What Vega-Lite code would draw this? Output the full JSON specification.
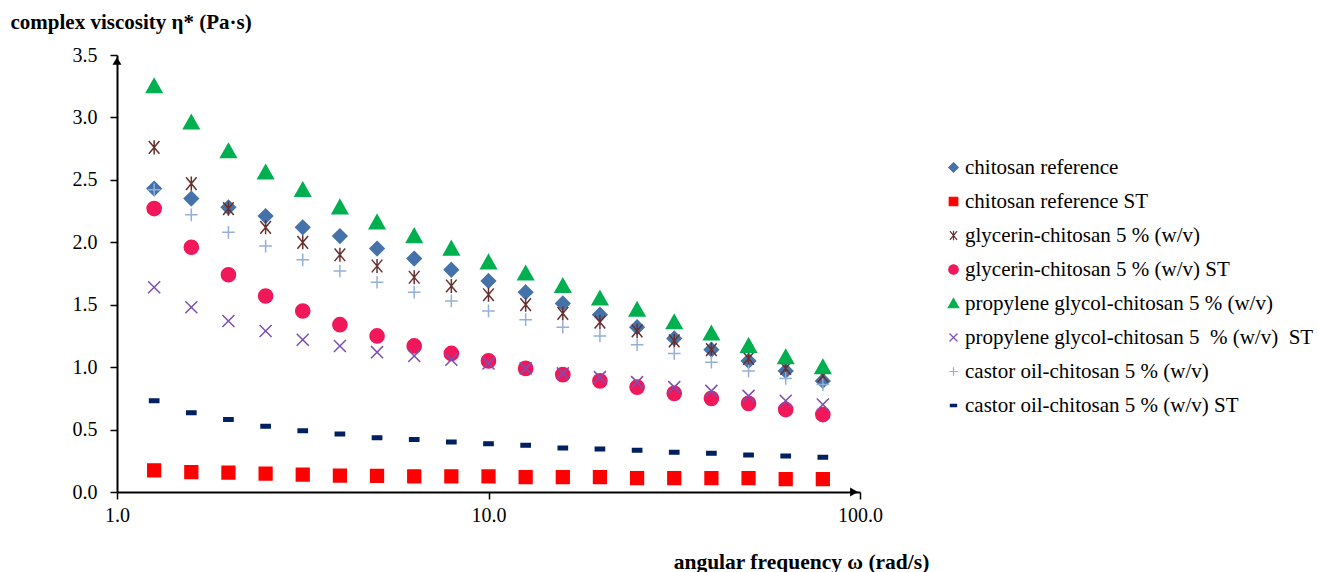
{
  "$schema": "https://vega.github.io/schema/vega-lite/v6.json",
  "autosize": {"type": "none"},
  "padding": {"left": 117, "top": 55, "right": 458, "bottom": 80},
  "width": 743,
  "height": 437,
  "background": "white",
  "config": {
    "view": {"stroke": null},
    "font": "Liberation Serif",
    "axis": {"labelFont": "Liberation Serif", "titleFont": "Liberation Serif", "labelColor": "black", "titleColor": "black", "domainColor": "black", "tickColor": "black", "grid": false, "labelFlush": false, "labelOverlap": false},
    "legend": {"labelFont": "Liberation Serif", "labelColor": "black"}
  },
  "datasets": {
    "arrows": [{"w": 1, "v": 3.5, "k": "y"}],
    "arrowsx": [{"w": 100, "v": 0, "k": "x"}],
    "main": [
      {"s":"chitosan reference","w":1.259,"v":2.43},{"s":"chitosan reference","w":1.585,"v":2.35},{"s":"chitosan reference","w":1.995,"v":2.28},{"s":"chitosan reference","w":2.512,"v":2.21},{"s":"chitosan reference","w":3.162,"v":2.12},{"s":"chitosan reference","w":3.981,"v":2.05},{"s":"chitosan reference","w":5.012,"v":1.95},{"s":"chitosan reference","w":6.31,"v":1.87},{"s":"chitosan reference","w":7.943,"v":1.78},{"s":"chitosan reference","w":10,"v":1.69},{"s":"chitosan reference","w":12.59,"v":1.6},{"s":"chitosan reference","w":15.85,"v":1.51},{"s":"chitosan reference","w":19.95,"v":1.42},{"s":"chitosan reference","w":25.12,"v":1.32},{"s":"chitosan reference","w":31.62,"v":1.23},{"s":"chitosan reference","w":39.81,"v":1.14},{"s":"chitosan reference","w":50.12,"v":1.05},{"s":"chitosan reference","w":63.1,"v":0.97},{"s":"chitosan reference","w":79.43,"v":0.89},
      {"s":"chitosan reference ST","w":1.259,"v":0.174},{"s":"chitosan reference ST","w":1.585,"v":0.16},{"s":"chitosan reference ST","w":1.995,"v":0.155},{"s":"chitosan reference ST","w":2.512,"v":0.147},{"s":"chitosan reference ST","w":3.162,"v":0.139},{"s":"chitosan reference ST","w":3.981,"v":0.131},{"s":"chitosan reference ST","w":5.012,"v":0.13},{"s":"chitosan reference ST","w":6.31,"v":0.126},{"s":"chitosan reference ST","w":7.943,"v":0.126},{"s":"chitosan reference ST","w":10,"v":0.125},{"s":"chitosan reference ST","w":12.59,"v":0.12},{"s":"chitosan reference ST","w":15.85,"v":0.12},{"s":"chitosan reference ST","w":19.95,"v":0.12},{"s":"chitosan reference ST","w":25.12,"v":0.112},{"s":"chitosan reference ST","w":31.62,"v":0.112},{"s":"chitosan reference ST","w":39.81,"v":0.112},{"s":"chitosan reference ST","w":50.12,"v":0.112},{"s":"chitosan reference ST","w":63.1,"v":0.104},{"s":"chitosan reference ST","w":79.43,"v":0.104},
      {"s":"glycerin-chitosan 5 % (w/v)","w":1.259,"v":2.76},{"s":"glycerin-chitosan 5 % (w/v)","w":1.585,"v":2.47},{"s":"glycerin-chitosan 5 % (w/v)","w":1.995,"v":2.27},{"s":"glycerin-chitosan 5 % (w/v)","w":2.512,"v":2.12},{"s":"glycerin-chitosan 5 % (w/v)","w":3.162,"v":2.0},{"s":"glycerin-chitosan 5 % (w/v)","w":3.981,"v":1.9},{"s":"glycerin-chitosan 5 % (w/v)","w":5.012,"v":1.81},{"s":"glycerin-chitosan 5 % (w/v)","w":6.31,"v":1.72},{"s":"glycerin-chitosan 5 % (w/v)","w":7.943,"v":1.65},{"s":"glycerin-chitosan 5 % (w/v)","w":10,"v":1.58},{"s":"glycerin-chitosan 5 % (w/v)","w":12.59,"v":1.5},{"s":"glycerin-chitosan 5 % (w/v)","w":15.85,"v":1.43},{"s":"glycerin-chitosan 5 % (w/v)","w":19.95,"v":1.36},{"s":"glycerin-chitosan 5 % (w/v)","w":25.12,"v":1.29},{"s":"glycerin-chitosan 5 % (w/v)","w":31.62,"v":1.21},{"s":"glycerin-chitosan 5 % (w/v)","w":39.81,"v":1.14},{"s":"glycerin-chitosan 5 % (w/v)","w":50.12,"v":1.07},{"s":"glycerin-chitosan 5 % (w/v)","w":63.1,"v":0.99},{"s":"glycerin-chitosan 5 % (w/v)","w":79.43,"v":0.93},
      {"s":"glycerin-chitosan 5 % (w/v) ST","w":1.259,"v":2.27},{"s":"glycerin-chitosan 5 % (w/v) ST","w":1.585,"v":1.96},{"s":"glycerin-chitosan 5 % (w/v) ST","w":1.995,"v":1.74},{"s":"glycerin-chitosan 5 % (w/v) ST","w":2.512,"v":1.57},{"s":"glycerin-chitosan 5 % (w/v) ST","w":3.162,"v":1.45},{"s":"glycerin-chitosan 5 % (w/v) ST","w":3.981,"v":1.34},{"s":"glycerin-chitosan 5 % (w/v) ST","w":5.012,"v":1.25},{"s":"glycerin-chitosan 5 % (w/v) ST","w":6.31,"v":1.17},{"s":"glycerin-chitosan 5 % (w/v) ST","w":7.943,"v":1.11},{"s":"glycerin-chitosan 5 % (w/v) ST","w":10,"v":1.05},{"s":"glycerin-chitosan 5 % (w/v) ST","w":12.59,"v":0.99},{"s":"glycerin-chitosan 5 % (w/v) ST","w":15.85,"v":0.94},{"s":"glycerin-chitosan 5 % (w/v) ST","w":19.95,"v":0.89},{"s":"glycerin-chitosan 5 % (w/v) ST","w":25.12,"v":0.84},{"s":"glycerin-chitosan 5 % (w/v) ST","w":31.62,"v":0.79},{"s":"glycerin-chitosan 5 % (w/v) ST","w":39.81,"v":0.75},{"s":"glycerin-chitosan 5 % (w/v) ST","w":50.12,"v":0.71},{"s":"glycerin-chitosan 5 % (w/v) ST","w":63.1,"v":0.66},{"s":"glycerin-chitosan 5 % (w/v) ST","w":79.43,"v":0.62},
      {"s":"propylene glycol-chitosan 5 % (w/v)","w":1.259,"v":3.25},{"s":"propylene glycol-chitosan 5 % (w/v)","w":1.585,"v":2.96},{"s":"propylene glycol-chitosan 5 % (w/v)","w":1.995,"v":2.73},{"s":"propylene glycol-chitosan 5 % (w/v)","w":2.512,"v":2.56},{"s":"propylene glycol-chitosan 5 % (w/v)","w":3.162,"v":2.42},{"s":"propylene glycol-chitosan 5 % (w/v)","w":3.981,"v":2.28},{"s":"propylene glycol-chitosan 5 % (w/v)","w":5.012,"v":2.16},{"s":"propylene glycol-chitosan 5 % (w/v)","w":6.31,"v":2.05},{"s":"propylene glycol-chitosan 5 % (w/v)","w":7.943,"v":1.95},{"s":"propylene glycol-chitosan 5 % (w/v)","w":10,"v":1.84},{"s":"propylene glycol-chitosan 5 % (w/v)","w":12.59,"v":1.75},{"s":"propylene glycol-chitosan 5 % (w/v)","w":15.85,"v":1.65},{"s":"propylene glycol-chitosan 5 % (w/v)","w":19.95,"v":1.55},{"s":"propylene glycol-chitosan 5 % (w/v)","w":25.12,"v":1.46},{"s":"propylene glycol-chitosan 5 % (w/v)","w":31.62,"v":1.36},{"s":"propylene glycol-chitosan 5 % (w/v)","w":39.81,"v":1.27},{"s":"propylene glycol-chitosan 5 % (w/v)","w":50.12,"v":1.17},{"s":"propylene glycol-chitosan 5 % (w/v)","w":63.1,"v":1.08},{"s":"propylene glycol-chitosan 5 % (w/v)","w":79.43,"v":1.0},
      {"s":"propylene glycol-chitosan 5\u00a0 % (w/v)\u00a0 ST","w":1.259,"v":1.64},{"s":"propylene glycol-chitosan 5\u00a0 % (w/v)\u00a0 ST","w":1.585,"v":1.48},{"s":"propylene glycol-chitosan 5\u00a0 % (w/v)\u00a0 ST","w":1.995,"v":1.37},{"s":"propylene glycol-chitosan 5\u00a0 % (w/v)\u00a0 ST","w":2.512,"v":1.29},{"s":"propylene glycol-chitosan 5\u00a0 % (w/v)\u00a0 ST","w":3.162,"v":1.22},{"s":"propylene glycol-chitosan 5\u00a0 % (w/v)\u00a0 ST","w":3.981,"v":1.17},{"s":"propylene glycol-chitosan 5\u00a0 % (w/v)\u00a0 ST","w":5.012,"v":1.12},{"s":"propylene glycol-chitosan 5\u00a0 % (w/v)\u00a0 ST","w":6.31,"v":1.09},{"s":"propylene glycol-chitosan 5\u00a0 % (w/v)\u00a0 ST","w":7.943,"v":1.06},{"s":"propylene glycol-chitosan 5\u00a0 % (w/v)\u00a0 ST","w":10,"v":1.03},{"s":"propylene glycol-chitosan 5\u00a0 % (w/v)\u00a0 ST","w":12.59,"v":0.99},{"s":"propylene glycol-chitosan 5\u00a0 % (w/v)\u00a0 ST","w":15.85,"v":0.95},{"s":"propylene glycol-chitosan 5\u00a0 % (w/v)\u00a0 ST","w":19.95,"v":0.92},{"s":"propylene glycol-chitosan 5\u00a0 % (w/v)\u00a0 ST","w":25.12,"v":0.88},{"s":"propylene glycol-chitosan 5\u00a0 % (w/v)\u00a0 ST","w":31.62,"v":0.84},{"s":"propylene glycol-chitosan 5\u00a0 % (w/v)\u00a0 ST","w":39.81,"v":0.81},{"s":"propylene glycol-chitosan 5\u00a0 % (w/v)\u00a0 ST","w":50.12,"v":0.77},{"s":"propylene glycol-chitosan 5\u00a0 % (w/v)\u00a0 ST","w":63.1,"v":0.73},{"s":"propylene glycol-chitosan 5\u00a0 % (w/v)\u00a0 ST","w":79.43,"v":0.7},
      {"s":"castor oil-chitosan 5 % (w/v)","w":1.259,"v":2.42},{"s":"castor oil-chitosan 5 % (w/v)","w":1.585,"v":2.22},{"s":"castor oil-chitosan 5 % (w/v)","w":1.995,"v":2.08},{"s":"castor oil-chitosan 5 % (w/v)","w":2.512,"v":1.97},{"s":"castor oil-chitosan 5 % (w/v)","w":3.162,"v":1.86},{"s":"castor oil-chitosan 5 % (w/v)","w":3.981,"v":1.77},{"s":"castor oil-chitosan 5 % (w/v)","w":5.012,"v":1.68},{"s":"castor oil-chitosan 5 % (w/v)","w":6.31,"v":1.6},{"s":"castor oil-chitosan 5 % (w/v)","w":7.943,"v":1.53},{"s":"castor oil-chitosan 5 % (w/v)","w":10,"v":1.45},{"s":"castor oil-chitosan 5 % (w/v)","w":12.59,"v":1.38},{"s":"castor oil-chitosan 5 % (w/v)","w":15.85,"v":1.32},{"s":"castor oil-chitosan 5 % (w/v)","w":19.95,"v":1.25},{"s":"castor oil-chitosan 5 % (w/v)","w":25.12,"v":1.18},{"s":"castor oil-chitosan 5 % (w/v)","w":31.62,"v":1.11},{"s":"castor oil-chitosan 5 % (w/v)","w":39.81,"v":1.04},{"s":"castor oil-chitosan 5 % (w/v)","w":50.12,"v":0.97},{"s":"castor oil-chitosan 5 % (w/v)","w":63.1,"v":0.91},{"s":"castor oil-chitosan 5 % (w/v)","w":79.43,"v":0.86},
      {"s":"castor oil-chitosan 5 % (w/v) ST","w":1.259,"v":0.73},{"s":"castor oil-chitosan 5 % (w/v) ST","w":1.585,"v":0.635},{"s":"castor oil-chitosan 5 % (w/v) ST","w":1.995,"v":0.58},{"s":"castor oil-chitosan 5 % (w/v) ST","w":2.512,"v":0.526},{"s":"castor oil-chitosan 5 % (w/v) ST","w":3.162,"v":0.49},{"s":"castor oil-chitosan 5 % (w/v) ST","w":3.981,"v":0.464},{"s":"castor oil-chitosan 5 % (w/v) ST","w":5.012,"v":0.435},{"s":"castor oil-chitosan 5 % (w/v) ST","w":6.31,"v":0.42},{"s":"castor oil-chitosan 5 % (w/v) ST","w":7.943,"v":0.4},{"s":"castor oil-chitosan 5 % (w/v) ST","w":10,"v":0.387},{"s":"castor oil-chitosan 5 % (w/v) ST","w":12.59,"v":0.374},{"s":"castor oil-chitosan 5 % (w/v) ST","w":15.85,"v":0.352},{"s":"castor oil-chitosan 5 % (w/v) ST","w":19.95,"v":0.344},{"s":"castor oil-chitosan 5 % (w/v) ST","w":25.12,"v":0.334},{"s":"castor oil-chitosan 5 % (w/v) ST","w":31.62,"v":0.318},{"s":"castor oil-chitosan 5 % (w/v) ST","w":39.81,"v":0.31},{"s":"castor oil-chitosan 5 % (w/v) ST","w":50.12,"v":0.296},{"s":"castor oil-chitosan 5 % (w/v) ST","w":63.1,"v":0.288},{"s":"castor oil-chitosan 5 % (w/v) ST","w":79.43,"v":0.278}
    ]
  },
  "layer": [
    {
      "data": {"name": "main"},
      "mark": {"type": "point", "strokeWidth": 1.5, "opacity": 1, "size": 200},
      "encoding": {
        "x": {
          "field": "w", "type": "quantitative",
          "scale": {"type": "log", "domain": [1, 100], "nice": false},
          "axis": {
            "values": [1, 10, 100], "format": ".1f",
            "labelFontSize": 20, "labelPadding": 6, "tickSize": 7, "tickWidth": 1.5, "domainWidth": 2,
            "title": "angular frequency ω (rad/s)", "titleFontSize": 21.5, "titleFontWeight": "bold",
            "titleX": 684, "titleY": 76, "titleBaseline": "alphabetic", "titleAnchor": null, "titleAlign": "center"
          }
        },
        "y": {
          "field": "v", "type": "quantitative",
          "scale": {"domain": [0, 3.5], "nice": false, "zero": true},
          "axis": {
            "values": [0, 0.5, 1, 1.5, 2, 2.5, 3, 3.5], "format": ".1f",
            "labelFontSize": 20, "labelPadding": 13, "tickSize": 7, "tickWidth": 1.5, "domainWidth": 2,
            "title": "complex viscosity η* (Pa·s)", "titleFontSize": 21, "titleFontWeight": "bold",
            "titleAngle": 0, "titleX": -107, "titleY": -27, "titleAlign": "left", "titleBaseline": "alphabetic", "titleAnchor": null
          }
        },
        "shape": {
          "field": "s", "type": "nominal", "sort": null,
          "scale": {
            "domain": ["chitosan reference", "chitosan reference ST", "glycerin-chitosan 5 % (w/v)", "glycerin-chitosan 5 % (w/v) ST", "propylene glycol-chitosan 5 % (w/v)", "propylene glycol-chitosan 5\u00a0 % (w/v)\u00a0 ST", "castor oil-chitosan 5 % (w/v)", "castor oil-chitosan 5 % (w/v) ST"],
            "range": [
              "M0,-1L1,0L0,1L-1,0Z",
              "M-0.9,-0.9H0.9V0.9H-0.9Z",
              "M-0.75,-0.9L0.75,0.9M-0.75,0.9L0.75,-0.9M0,-1V1",
              "M1,0A1,1 0 1,1 -1,0A1,1 0 1,1 1,0Z",
              "M0,-1.05L1.1,0.9L-1.1,0.9Z",
              "M-0.85,-0.85L0.85,0.85M-0.85,0.85L0.85,-0.85",
              "M-0.9,0H0.9M0,-0.9V0.9",
              "M-0.65,-0.25H0.65V0.25H-0.65Z"
            ]
          },
          "legend": {
            "title": null, "orient": "none", "legendX": 826, "legendY": 102,
            "labelFontSize": 21, "rowPadding": 12, "symbolSize": 90, "symbolStrokeWidth": 1.2, "labelOffset": 1, "labelLimit": 500
          }
        },
        "fill": {
          "field": "s", "type": "nominal", "sort": null,
          "scale": {
            "domain": ["chitosan reference", "chitosan reference ST", "glycerin-chitosan 5 % (w/v)", "glycerin-chitosan 5 % (w/v) ST", "propylene glycol-chitosan 5 % (w/v)", "propylene glycol-chitosan 5\u00a0 % (w/v)\u00a0 ST", "castor oil-chitosan 5 % (w/v)", "castor oil-chitosan 5 % (w/v) ST"],
            "range": ["#4672aa", "#ff0000", "#66302e", "#f0185a", "#00b050", "#7d4fb0", "#95b0d8", "#002060"]
          },
          "legend": {
            "title": null, "orient": "none", "legendX": 826, "legendY": 102,
            "labelFontSize": 21, "rowPadding": 12, "symbolSize": 90, "symbolStrokeWidth": 1.2, "labelOffset": 1, "labelLimit": 500
          }
        },
        "stroke": {
          "field": "s", "type": "nominal", "sort": null,
          "scale": {
            "domain": ["chitosan reference", "chitosan reference ST", "glycerin-chitosan 5 % (w/v)", "glycerin-chitosan 5 % (w/v) ST", "propylene glycol-chitosan 5 % (w/v)", "propylene glycol-chitosan 5\u00a0 % (w/v)\u00a0 ST", "castor oil-chitosan 5 % (w/v)", "castor oil-chitosan 5 % (w/v) ST"],
            "range": ["#4672aa", "#ff0000", "#66302e", "#f0185a", "#00b050", "#7d4fb0", "#95b0d8", "#002060"]
          },
          "legend": {
            "title": null, "orient": "none", "legendX": 826, "legendY": 102,
            "labelFontSize": 21, "rowPadding": 12, "symbolSize": 90, "symbolStrokeWidth": 1.2, "labelOffset": 1, "labelLimit": 500
          }
        }
      }
    },
    {
      "data": {"name": "arrows"},
      "mark": {"type": "point", "shape": "triangle-up", "filled": true, "color": "black", "size": 80, "opacity": 1, "yOffset": 6},
      "encoding": {
        "x": {"field": "w", "type": "quantitative"},
        "y": {"field": "v", "type": "quantitative"}
      }
    },
    {
      "data": {"name": "arrowsx"},
      "mark": {"type": "point", "shape": "triangle-right", "filled": true, "color": "black", "size": 80, "opacity": 1, "xOffset": -6},
      "encoding": {
        "x": {"field": "w", "type": "quantitative"},
        "y": {"field": "v", "type": "quantitative"}
      }
    }
  ]
}
